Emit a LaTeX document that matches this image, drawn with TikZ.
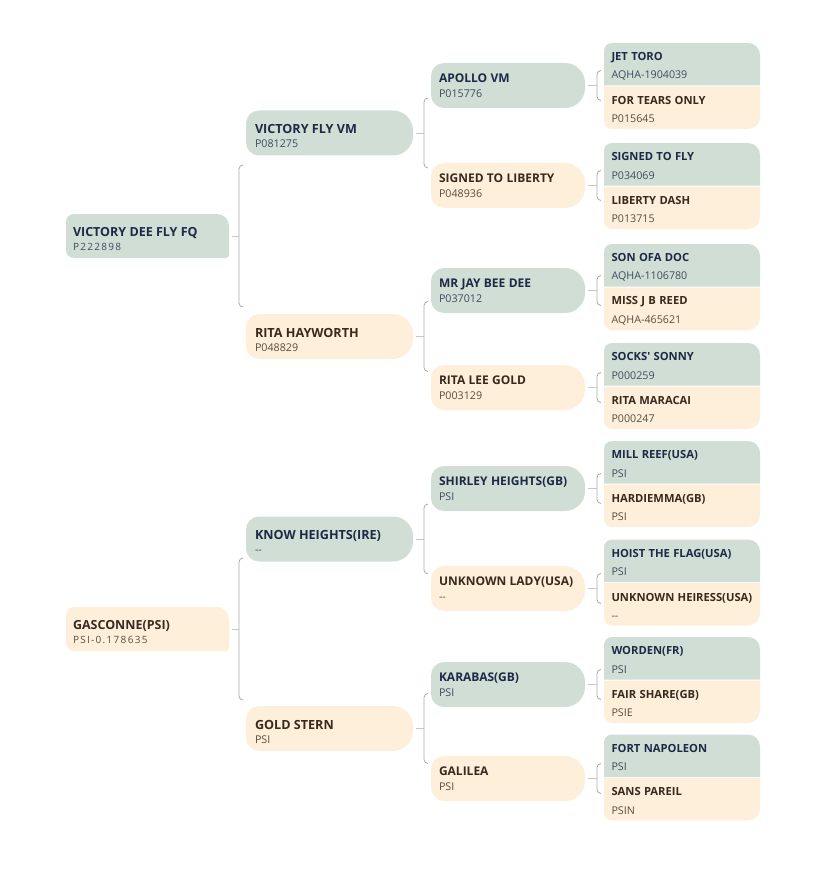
\documentclass[tikz,border=0pt]{standalone}
\usepackage{fontspec}
\setmainfont{Open Sans}[Ligatures=TeXOff]
\newfontfamily\spfont{Open Sans}[Ligatures=TeXOff,LetterSpace=13]
\usetikzlibrary{calc,backgrounds}
\definecolor{gfill}{HTML}{D0DED6}
\definecolor{cfill}{HTML}{FEEFDB}
\definecolor{gname}{HTML}{1E2A45}
\definecolor{cname}{HTML}{3A2A1E}
\definecolor{gcode}{HTML}{3E4B5E}
\definecolor{ccode}{HTML}{5B4B3E}
\definecolor{brc}{HTML}{A9A9A9}
\definecolor{tkc}{HTML}{C8C8C8}
\newcommand\nm[3]{{\fontsize{#1}{14}\selectfont\bfseries\color{#2}\mbox{#3}}}
\newcommand\cd[3]{{\fontsize{#1}{14}\selectfont\color{#2}\mbox{#3}}}
\newcommand\cs[3]{{\spfont\fontsize{#1}{14}\selectfont\color{#2}\mbox{#3}}}
\newcommand\shp[6]{%
 \fill[#2] let \p1=(#1.north west), \p2=(#1.south east) in
 (\x1+#3pt,\y1) -- (\x2-#4pt,\y1) arc[start angle=90,end angle=0,radius=#4pt]
 -- (\x2,\y2+#5pt) arc[start angle=0,end angle=-90,radius=#5pt]
 -- (\x1+#6pt,\y2) arc[start angle=270,end angle=180,radius=#6pt]
 -- (\x1,\y1-#3pt) arc[start angle=180,end angle=90,radius=#3pt] -- cycle;}
\newcommand\brk[3]{%
 \draw[tk] ([xshift=3pt]#1.east) -- ($(#2.west |- #1.east)+(-7,0)$);
 \draw[br] ($(#2.west |- #1.east)+(-3,-#3)$) -- ++(-4,0) -- ++(0,2*#3) -- ++(4,0);}
% text layouts per generation
\newcommand\gA[4]{\rule{0pt}{15pt}\nm{12.5}{#1}{#3}\\\cs{10}{#2}{#4}}
\newcommand\gB[4]{\rule{0pt}{15.5pt}\nm{12.6}{#1}{#3}\\\cd{10.7}{#2}{#4}}
\newcommand\gC[4]{\nm{12}{#1}{#3}\\[1pt]\cd{10.7}{#2}{#4}}
\newcommand\gD[4]{\rule{0pt}{12pt}\nm{11.2}{#1}{#3}\\[4.5pt]\cd{10.7}{#2}{#4}}
\tikzset{
 box/.style={inner ysep=0pt, outer sep=0pt, align=left, anchor=center, font=\fontsize{10}{14}\selectfont},
 bA/.style={box, inner xsep=7pt, text width=149pt, minimum height=44pt},
 bB/.style={box, inner xsep=9pt, text width=149pt, minimum height=45pt},
 bC/.style={box, inner xsep=8pt, text width=138pt, minimum height=45pt},
 bD/.style={box, inner xsep=7.5pt, text width=141pt, minimum height=42.5pt},
 br/.style={draw=brc, line width=0.8pt, rounded corners=4pt},
 tk/.style={draw=tkc, line width=0.8pt},
}
\begin{document}
\begin{tikzpicture}[x=1pt,y=-1pt]
\useasboundingbox (0,0) rectangle (828,869);
% generation 1
\node[bA] (a) at (147.5,236) {\gA{gname}{gcode}{VICTORY DEE FLY FQ}{P222898}};
\node[bA] (b) at (147.5,629) {\gA{cname}{ccode}{GASCONNE(PSI)}{PSI-0.178635}};
% generation 2
\node[bB] (a1) at (329.5,133) {\gB{gname}{gcode}{VICTORY FLY VM}{P081275}};
\node[bB] (a2) at (329.5,336.5) {\gB{cname}{ccode}{RITA HAYWORTH}{P048829}};
\node[bB] (b1) at (329.5,539) {\gB{gname}{gcode}{KNOW HEIGHTS(IRE)}{--}};
\node[bB] (b2) at (329.5,728.5) {\gB{cname}{ccode}{GOLD STERN}{PSI}};
% generation 3
\node[bC] (a11) at (508,85.5) {\gC{gname}{gcode}{APOLLO VM}{P015776}};
\node[bC] (a12) at (508,185.5) {\gC{cname}{ccode}{SIGNED TO LIBERTY}{P048936}};
\node[bC] (a21) at (508,290.5) {\gC{gname}{gcode}{MR JAY BEE DEE}{P037012}};
\node[bC] (a22) at (508,387.5) {\gC{cname}{ccode}{RITA LEE GOLD}{P003129}};
\node[bC] (b11) at (508,488.5) {\gC{gname}{gcode}{SHIRLEY HEIGHTS(GB)}{PSI}};
\node[bC] (b12) at (508,588.5) {\gC{cname}{ccode}{UNKNOWN LADY(USA)}{--}};
\node[bC] (b21) at (508,684.5) {\gC{gname}{gcode}{KARABAS(GB)}{PSI}};
\node[bC] (b22) at (508,778.5) {\gC{cname}{ccode}{GALILEA}{PSI}};
% generation 4
\node[bD] (a111) at (682,64.25) {\gD{gname}{gcode}{JET TORO}{AQHA-1904039}};
\node[bD] (a112) at (682,107.75) {\gD{cname}{ccode}{FOR TEARS ONLY}{P015645}};
\node[bD] (a121) at (682,164.25) {\gD{gname}{gcode}{SIGNED TO FLY}{P034069}};
\node[bD] (a122) at (682,207.75) {\gD{cname}{ccode}{LIBERTY DASH}{P013715}};
\node[bD] (a211) at (682,265.25) {\gD{gname}{gcode}{SON OFA DOC}{AQHA-1106780}};
\node[bD] (a212) at (682,308.75) {\gD{cname}{ccode}{MISS J B REED}{AQHA-465621}};
\node[bD] (a221) at (682,364.25) {\gD{gname}{gcode}{SOCKS' SONNY}{P000259}};
\node[bD] (a222) at (682,407.75) {\gD{cname}{ccode}{RITA MARACAI}{P000247}};
\node[bD] (b111) at (682,462.25) {\gD{gname}{gcode}{MILL REEF(USA)}{PSI}};
\node[bD] (b112) at (682,505.75) {\gD{cname}{ccode}{HARDIEMMA(GB)}{PSI}};
\node[bD] (b121) at (682,560.75) {\gD{gname}{gcode}{HOIST THE FLAG(USA)}{PSI}};
\node[bD] (b122) at (682,604.25) {\gD{cname}{ccode}{UNKNOWN HEIRESS(USA)}{--}};
\node[bD] (b211) at (682,658.25) {\gD{gname}{gcode}{WORDEN(FR)}{PSI}};
\node[bD] (b212) at (682,701.75) {\gD{cname}{ccode}{FAIR SHARE(GB)}{PSIE}};
\node[bD] (b221) at (682,755.75) {\gD{gname}{gcode}{FORT NAPOLEON}{PSI}};
\node[bD] (b222) at (682,799.25) {\gD{cname}{ccode}{SANS PAREIL}{PSIN}};
% box shapes
\begin{scope}[on background layer]
\shp{a}{gfill}{8}{12}{3}{8}
\shp{b}{cfill}{8}{12}{3}{8}
\foreach \nd in {a1,b1}{\shp{\nd}{gfill}{13}{20}{20}{13}}
\foreach \nd in {a2,b2}{\shp{\nd}{cfill}{13}{20}{20}{13}}
\foreach \nd in {a11,a21,b11,b21}{\shp{\nd}{gfill}{13}{20}{20}{13}}
\foreach \nd in {a12,a22,b12,b22}{\shp{\nd}{cfill}{13}{20}{20}{13}}
\foreach \nd in {a111,a121,a211,a221,b111,b121,b211,b221}{\shp{\nd}{gfill}{8}{12}{0.1}{0.1}}
\foreach \nd in {a112,a122,a212,a222,b112,b122,b212,b222}{\shp{\nd}{cfill}{0.1}{0.1}{12}{8}}
\end{scope}
% connectors
\brk{a}{a1}{71}
\brk{b}{b1}{71}
\brk{a1}{a11}{35}
\brk{a2}{a21}{35}
\brk{b1}{b11}{35}
\brk{b2}{b21}{35}
\brk{a11}{a111}{15}
\brk{a12}{a121}{15}
\brk{a21}{a211}{15}
\brk{a22}{a221}{15}
\brk{b11}{b111}{15}
\brk{b12}{b121}{15}
\brk{b21}{b211}{15}
\brk{b22}{b221}{15}
\end{tikzpicture}
\end{document}
